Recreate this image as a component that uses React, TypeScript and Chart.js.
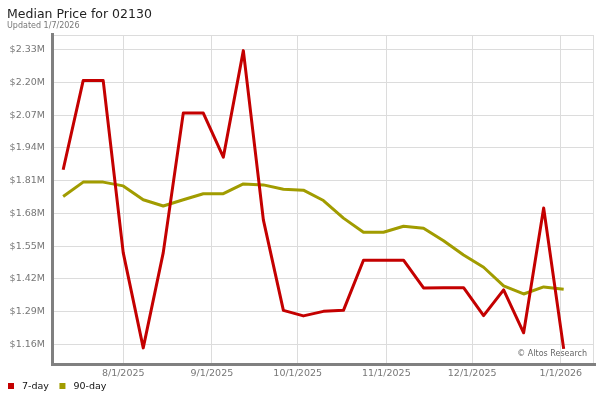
import { useEffect, useRef } from 'react';
import { Chart, registerables } from 'chart.js';

Chart.register(...registerables);

const TITLE = 'Median Price for 02130';
const SUBTITLE = 'Updated 1/7/2026';
const WATERMARK = '© Altos Research';

const weekDates = [
  '2025-07-11', '2025-07-18', '2025-07-25', '2025-08-01', '2025-08-08', '2025-08-15',
  '2025-08-22', '2025-08-29', '2025-09-05', '2025-09-12', '2025-09-19', '2025-09-26',
  '2025-10-03', '2025-10-10', '2025-10-17', '2025-10-24', '2025-10-31', '2025-11-07',
  '2025-11-14', '2025-11-21', '2025-11-28', '2025-12-05', '2025-12-12', '2025-12-19',
  '2025-12-26', '2026-01-02',
];

// values in millions of dollars
const sevenDay = [
  1.853, 2.207, 2.207, 1.524, 1.146, 1.524, 2.078, 2.078, 1.903, 2.326, 1.654, 1.295,
  1.273, 1.291, 1.295, 1.494, 1.494, 1.494, 1.384, 1.385, 1.385, 1.274, 1.376, 1.206,
  1.701, 1.142,
];

const ninetyDay = [
  1.747, 1.804, 1.804, 1.789, 1.734, 1.709, 1.734, 1.758, 1.758, 1.797, 1.793, 1.776,
  1.772, 1.731, 1.661, 1.605, 1.605, 1.629, 1.621, 1.571, 1.515, 1.466, 1.392, 1.360,
  1.388, 1.379,
];

const seriesLabels = ['7-day', '90-day'];
const seriesColors = ['#c40000', '#a19c00'];

const yTickValues = [1.16, 1.29, 1.42, 1.55, 1.68, 1.81, 1.94, 2.07, 2.2, 2.33];
const yMin = 1.086;
const yMax = 2.388;

const xTickLabels = ['8/1/2025', '9/1/2025', '10/1/2025', '11/1/2025', '12/1/2025', '1/1/2026'];

const FONT = "'DejaVu Sans', 'Liberation Sans', sans-serif";

function dayFromIso(s: string): number {
  const [y, m, d] = s.split('-').map(Number);
  return Date.UTC(y, m - 1, d) / 864e5;
}
function dayFromMDY(s: string): number {
  const [m, d, y] = s.split('/').map(Number);
  return Date.UTC(y, m - 1, d) / 864e5;
}
function fmtDay(v: number): string {
  const dt = new Date(Math.round(v) * 864e5);
  return `${dt.getUTCMonth() + 1}/${dt.getUTCDate()}/${dt.getUTCFullYear()}`;
}

const xTickDays = xTickLabels.map(dayFromMDY);
const xMin = xTickDays[0] - 24.2;
const xMax = xTickDays[0] + 164.6;

const decorPlugin = {
  id: 'decor',
  beforeDatasetsDraw(chart: any) {
    const { ctx, chartArea: a } = chart;
    ctx.save();
    ctx.strokeStyle = '#dcdcdc';
    ctx.lineWidth = 1;
    ctx.beginPath();
    ctx.moveTo(a.left, a.top + 0.5);
    ctx.lineTo(a.right, a.top + 0.5);
    ctx.moveTo(a.right - 0.5, a.top);
    ctx.lineTo(a.right - 0.5, a.bottom);
    ctx.stroke();
    ctx.strokeStyle = '#808080';
    ctx.lineWidth = 3;
    ctx.beginPath();
    ctx.moveTo(a.left - 1.5, a.top - 2);
    ctx.lineTo(a.left - 1.5, a.bottom + 1.5);
    ctx.lineTo(a.right + 2, a.bottom + 1.5);
    ctx.stroke();
    ctx.restore();
  },
  afterDraw(chart: any) {
    const { ctx, chartArea: a } = chart;
    ctx.save();
    ctx.textAlign = 'left';
    ctx.textBaseline = 'alphabetic';
    ctx.fillStyle = '#222';
    ctx.font = `12.5px ${FONT}`;
    ctx.fillText(TITLE, 7, 18);
    ctx.fillStyle = '#777';
    ctx.font = `8px ${FONT}`;
    ctx.fillText(SUBTITLE, 7, 27.5);

    ctx.textAlign = 'right';
    ctx.textBaseline = 'middle';
    ctx.fillStyle = '#666';
    ctx.font = `8px ${FONT}`;
    ctx.fillText(WATERMARK, a.right - 7, a.bottom - 9);

    // legend
    ctx.textAlign = 'left';
    ctx.font = `9.5px ${FONT}`;
    let x = 8;
    chart.data.datasets.forEach((ds: any) => {
      ctx.fillStyle = ds.borderColor;
      ctx.fillRect(x, 383, 6, 6);
      ctx.fillStyle = '#111';
      ctx.fillText(ds.label, x + 14, 386.5);
      x += 14 + ctx.measureText(ds.label).width + 10.5;
    });
    ctx.restore();
  },
};

export default function App() {
  const ref = useRef<HTMLCanvasElement | null>(null);

  useEffect(() => {
    if (!ref.current) return;
    const xs = weekDates.map(dayFromIso);
    const chart = new Chart(ref.current, {
      type: 'line',
      data: {
        datasets: [
          {
            label: seriesLabels[0],
            data: xs.map((x, i) => ({ x, y: sevenDay[i] })),
            borderColor: seriesColors[0],
            backgroundColor: seriesColors[0],
            borderWidth: 3,
            pointRadius: 0,
            tension: 0,
            borderJoinStyle: 'round',
          },
          {
            label: seriesLabels[1],
            data: xs.map((x, i) => ({ x, y: ninetyDay[i] })),
            borderColor: seriesColors[1],
            backgroundColor: seriesColors[1],
            borderWidth: 3,
            pointRadius: 0,
            tension: 0,
            borderJoinStyle: 'round',
          },
        ],
      },
      options: {
        responsive: false,
        animation: false,
        layout: { padding: { top: 35, right: 6, left: 0, bottom: 0 } },
        plugins: {
          legend: { display: false },
          title: { display: false },
          tooltip: { enabled: false },
        },
        scales: {
          x: {
            type: 'linear',
            min: xMin,
            max: xMax,
            afterFit: (s: any) => { s.height = 37; },
            afterBuildTicks: (s: any) => { s.ticks = xTickDays.map((v) => ({ value: v })); },
            grid: { color: '#dcdcdc', drawTicks: false, lineWidth: 1 },
            border: { display: false },
            ticks: {
              padding: 5,
              color: '#777',
              font: { family: FONT, size: 9.5 },
              maxRotation: 0,
              autoSkip: false,
              callback: (v: any) => fmtDay(Number(v)),
            },
          },
          y: {
            type: 'linear',
            min: yMin,
            max: yMax,
            afterFit: (s: any) => { s.width = 54; },
            afterBuildTicks: (s: any) => { s.ticks = yTickValues.map((v) => ({ value: v })); },
            grid: { color: '#dcdcdc', drawTicks: false, lineWidth: 1 },
            border: { display: false },
            ticks: {
              padding: 9,
              color: '#777',
              font: { family: FONT, size: 9.5 },
              autoSkip: false,
              callback: (v: any) => `$${Number(v).toFixed(2)}M`,
            },
          },
        },
      },
      plugins: [decorPlugin],
    } as any);
    return () => chart.destroy();
  }, []);

  return (
    <div style={{ position: 'fixed', left: 0, top: 0, width: 600, height: 400, background: '#fff' }}>
      <canvas ref={ref} width={600} height={400} style={{ display: 'block', width: 600, height: 400 }} />
    </div>
  );
}
